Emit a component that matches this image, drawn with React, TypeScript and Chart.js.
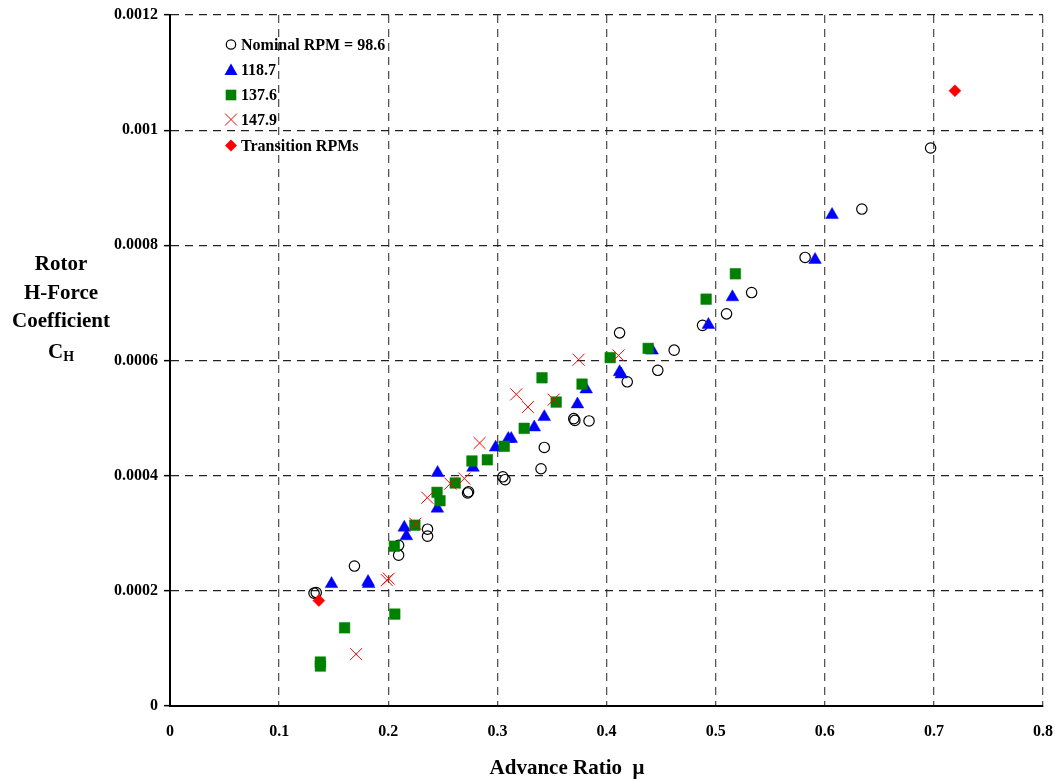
import React, { useEffect, useRef } from "react";
import { Chart, registerables } from "chart.js";

Chart.register(...registerables);

// ---- Data ----
const xTickLabels = ["0", "0.1", "0.2", "0.3", "0.4", "0.5", "0.6", "0.7", "0.8"];
const yTickLabels = ["0", "0.0002", "0.0004", "0.0006", "0.0008", "0.001", "0.0012"];
const legendLabels = ["Nominal RPM = 98.6", "118.7", "137.6", "147.9", "Transition RPMs"];

const nominalMu = [0.132, 0.134, 0.169, 0.2095, 0.2095, 0.236, 0.236, 0.2727, 0.2736, 0.305, 0.307, 0.34, 0.343, 0.37, 0.371, 0.384, 0.412, 0.419, 0.447, 0.462, 0.488, 0.51, 0.533, 0.582, 0.634, 0.697];
const nominalCH = [0.000196, 0.000197, 0.000243, 0.000279, 0.000262, 0.000307, 0.000295, 0.00037, 0.000372, 0.000398, 0.000393, 0.000412, 0.000449, 0.000499, 0.000496, 0.000495, 0.000648, 0.000563, 0.000583, 0.000618, 0.000661, 0.000681, 0.000718, 0.000779, 0.000863, 0.000969];

const rpm118Mu = [0.148, 0.1815, 0.182, 0.2147, 0.2166, 0.245, 0.2452, 0.2777, 0.2984, 0.31, 0.3127, 0.3338, 0.343, 0.3734, 0.3814, 0.412, 0.4135, 0.4418, 0.4934, 0.5154, 0.5911, 0.6067];
const rpm118CH = [0.000212, 0.0002156, 0.000212, 0.00031, 0.000295, 0.000343, 0.000405, 0.000414, 0.000449, 0.000464, 0.000464, 0.000484, 0.000502, 0.000524, 0.00055, 0.00058, 0.000576, 0.0006175, 0.000662, 0.00071, 0.000775, 0.000853];

const rpm137Mu = [0.1378, 0.1378, 0.16, 0.206, 0.2056, 0.2244, 0.2447, 0.2474, 0.2614, 0.2767, 0.2908, 0.3063, 0.3246, 0.3409, 0.3539, 0.3776, 0.4034, 0.4382, 0.4913, 0.5181];
const rpm137CH = [0.0000763, 0.0000694, 0.0001358, 0.0001596, 0.0002775, 0.000314, 0.000371, 0.0003565, 0.0003873, 0.0004255, 0.0004276, 0.000451, 0.0004822, 0.00057, 0.0005278, 0.000559, 0.000605, 0.000621, 0.0007065, 0.0007506];

const rpm147Mu = [0.1705, 0.1987, 0.2005, 0.2248, 0.2358, 0.2569, 0.2697, 0.2837, 0.3173, 0.328, 0.3515, 0.3744, 0.411];
const rpm147CH = [0.00009, 0.0002186, 0.0002212, 0.0003166, 0.0003617, 0.0003863, 0.000395, 0.0004567, 0.0005412, 0.0005192, 0.000532, 0.0006014, 0.0006088];

const transitionMu = [0.1364, 0.7193];
const transitionCH = [0.000183, 0.0010685];

const toPoints = (xs: number[], ys: number[]) => xs.map((x, i) => ({ x, y: ys[i] }));

const FONT = '"Liberation Serif", "Times New Roman", serif';

const legendPlugin = {
  id: "customLegend",
  afterDraw(chart: any) {
    const ctx = chart.ctx as CanvasRenderingContext2D;
    const mx = 231;
    const tx = 241;
    const ys = [44.5, 70, 95, 119.5, 145.5];
    ctx.save();
    ctx.font = `bold 16px ${FONT}`;
    ctx.textBaseline = "middle";
    ctx.textAlign = "left";
    ctx.fillStyle = "#000";
    legendLabels.forEach((label, i) => ctx.fillText(label, tx, ys[i] + 1));
    // circle
    ctx.beginPath();
    ctx.arc(mx, ys[0], 4.7, 0, Math.PI * 2);
    ctx.strokeStyle = "#000";
    ctx.lineWidth = 1.2;
    ctx.stroke();
    // triangle
    ctx.beginPath();
    ctx.moveTo(mx, ys[1] - 6.5);
    ctx.lineTo(mx + 6.5, ys[1] + 5);
    ctx.lineTo(mx - 6.5, ys[1] + 5);
    ctx.closePath();
    ctx.fillStyle = "#0000FF";
    ctx.fill();
    // square
    ctx.fillStyle = "#008000";
    ctx.fillRect(mx - 5.3, ys[2] - 5.3, 10.6, 10.6);
    // cross
    ctx.beginPath();
    ctx.moveTo(mx - 6, ys[3] - 6);
    ctx.lineTo(mx + 6, ys[3] + 6);
    ctx.moveTo(mx + 6, ys[3] - 6);
    ctx.lineTo(mx - 6, ys[3] + 6);
    ctx.strokeStyle = "#FF0000";
    ctx.lineWidth = 1;
    ctx.stroke();
    // diamond
    ctx.beginPath();
    ctx.moveTo(mx, ys[4] - 6);
    ctx.lineTo(mx + 6, ys[4]);
    ctx.lineTo(mx, ys[4] + 6);
    ctx.lineTo(mx - 6, ys[4]);
    ctx.closePath();
    ctx.fillStyle = "#FF0000";
    ctx.fill();
    ctx.restore();
  },
};

export default function App() {
  const canvasRef = useRef<HTMLCanvasElement | null>(null);

  useEffect(() => {
    if (!canvasRef.current) return;
    const chart = new Chart(canvasRef.current, {
      type: "scatter",
      data: {
        datasets: [
          {
            label: legendLabels[0],
            data: toPoints(nominalMu, nominalCH),
            pointStyle: "circle",
            pointRadius: 5.2,
            backgroundColor: "rgba(0,0,0,0)",
            borderColor: "#000",
            borderWidth: 1.2,
            order: 5,
          },
          {
            label: legendLabels[1],
            data: toPoints(rpm118Mu, rpm118CH),
            pointStyle: "triangle",
            pointRadius: 7.3,
            backgroundColor: "#0000FF",
            borderColor: "#0000FF",
            borderWidth: 0.5,
            order: 4,
          },
          {
            label: legendLabels[2],
            data: toPoints(rpm137Mu, rpm137CH),
            pointStyle: "rect",
            pointRadius: 7.5,
            backgroundColor: "#008000",
            borderColor: "#008000",
            borderWidth: 0.5,
            order: 3,
          },
          {
            label: legendLabels[3],
            data: toPoints(rpm147Mu, rpm147CH),
            pointStyle: "crossRot",
            pointRadius: 8.5,
            backgroundColor: "#FF0000",
            borderColor: "#FF0000",
            borderWidth: 1,
            order: 2,
          },
          {
            label: legendLabels[4],
            data: toPoints(transitionMu, transitionCH),
            pointStyle: "rectRot",
            pointRadius: 6,
            backgroundColor: "#FF0000",
            borderColor: "#FF0000",
            borderWidth: 0.5,
            order: 1,
          },
        ],
      },
      options: {
        responsive: false,
        animation: false,
        events: [],
        layout: { padding: { left: 0, top: 15, right: 12, bottom: 0 } },
        plugins: {
          legend: { display: false },
          tooltip: { enabled: false },
          title: { display: false },
        },
        scales: {
          x: {
            type: "linear",
            min: 0,
            max: 0.8,
            afterFit: (scale: any) => {
              scale.height = 76;
              scale.paddingLeft = 0;
              scale.paddingRight = 0;
            },
            ticks: {
              stepSize: 0.1,
              padding: 10,
              color: "#000",
              font: { family: FONT, size: 16, weight: "bold" },
              callback: (_v: any, i: number) => xTickLabels[i],
              maxRotation: 0,
            },
            grid: {
              color: "#555",
              lineWidth: 1.3,
              tickLength: 6,
              tickColor: "rgba(0,0,0,0)",
              borderDash: [8, 6],
            } as any,
            border: { display: true, color: "#000", width: 2, dash: [8, 6] },
          },
          y: {
            type: "linear",
            min: 0,
            max: 0.0012,
            afterFit: (scale: any) => {
              scale.width = 170;
              scale.paddingTop = 0;
              scale.paddingBottom = 0;
            },
            ticks: {
              stepSize: 0.0002,
              padding: 6,
              color: "#000",
              font: { family: FONT, size: 16, weight: "bold" },
              callback: (_v: any, i: number) => yTickLabels[i],
            },
            grid: {
              color: "#222",
              lineWidth: 1.3,
              tickLength: 6,
              tickColor: "#000",
              tickWidth: 1.5,
              borderDash: [8, 6],
            } as any,
            border: { display: true, color: "#000", width: 2, dash: [8, 6] },
          },
        },
      },
      plugins: [legendPlugin],
    } as any);
    return () => chart.destroy();
  }, []);

  const titleStyle: React.CSSProperties = {
    position: "absolute",
    fontFamily: FONT,
    fontWeight: "bold",
    fontSize: "21px",
    color: "#000",
    whiteSpace: "pre",
    transform: "translate(-50%, -50%)",
    lineHeight: 1,
  };

  return (
    <div style={{ position: "absolute", left: 0, top: 0, width: 1055, height: 782, background: "#fff" }}>
      <canvas ref={canvasRef} width={1055} height={782} style={{ display: "block" }} />
      <div style={{ ...titleStyle, left: 61, top: 263 }}>Rotor</div>
      <div style={{ ...titleStyle, left: 61, top: 292 }}>H-Force</div>
      <div style={{ ...titleStyle, left: 61, top: 320 }}>Coefficient</div>
      <div style={{ ...titleStyle, left: 61, top: 351 }}>
        C<span style={{ fontSize: "14px", position: "relative", top: "3px" }}>H</span>
      </div>
      <div style={{ ...titleStyle, left: 567, top: 767 }}>Advance Ratio  μ</div>
    </div>
  );
}
